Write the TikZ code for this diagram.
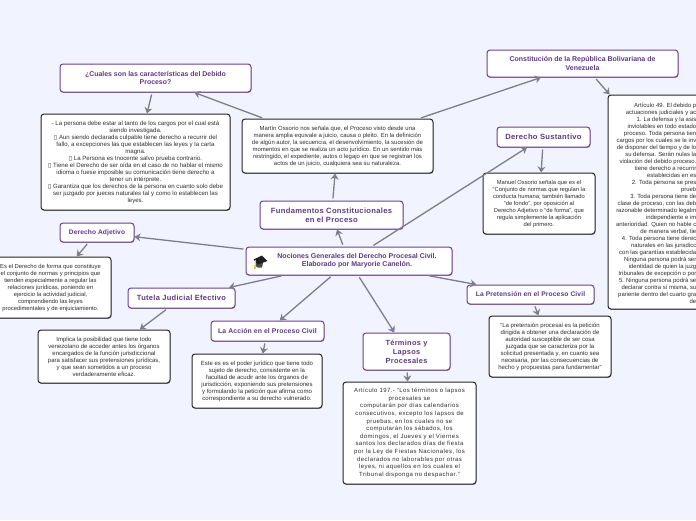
\documentclass[tikz,border=0pt]{standalone}
\usepackage{fontspec}
\setmainfont{Liberation Sans}
\newfontfamily\symfont{DejaVu Sans}
\usetikzlibrary{arrows.meta,shadows}
\definecolor{pagebg}{HTML}{F1F4FE}
\definecolor{headc}{HTML}{5E3A86}
\definecolor{headb}{HTML}{6C3F96}
\definecolor{bodyc}{HTML}{2E2E2E}
\definecolor{linkc}{HTML}{7E7E86}
\newcommand{\tofu}{{\symfont\char"25AF}}
\newcommand{\bodyfont}{\fontsize{5.95}{7}\selectfont}
\tikzset{
  softshadow/.style={drop shadow={shadow xshift=0.4pt,shadow yshift=-0.9pt,opacity=0.4,fill=black}},
  head/.style={draw=headb,line width=1pt,fill=white,rounded corners=3pt,softshadow,align=center,
    text=headc,font=\bfseries,inner sep=0pt,anchor=center},
  bodybox/.style={draw=black!85,line width=1pt,fill=white,rounded corners=3pt,softshadow,align=center,
    text=bodyc,font=\bodyfont,inner sep=0pt,anchor=center},
  conn/.style={draw=linkc,line width=1.3pt,shorten <=2pt,-{Stealth[length=6pt,width=8pt]}},
}
\begin{document}
\begin{tikzpicture}[x=1pt,y=-1pt]
\useasboundingbox (0,0) rectangle (696,520);
\fill[pagebg] (0,0) rectangle (696,520);
\clip (0,0) rectangle (696,520);

\node[head,minimum width=191pt,minimum height=28pt,font=\bfseries\fontsize{6.95}{8.2}\selectfont] (debido) at (155.5,78)
  {¿Cuales son las características del Debido\\Proceso?};
\node[bodybox,minimum width=189pt,minimum height=96pt,font=\fontsize{6.1}{7}\selectfont] (debidot) at (135.5,162)
  {- La persona debe estar al tanto de los cargos por el cual está\\
   siendo investigada.\\
   \tofu{} Aun siendo declarada culpable tiene derecho a recurrir del\\
   fallo, a excepciones las que establecen las leyes y la carta\\
   magna.\\
   \tofu{} La Persona es Inocente salvo prueba contrario.\\
   \tofu{} Tiene el Derecho de ser oída en el caso de no hablar el mismo\\
   idioma o fuese imposible su comunicación tiene derecho a\\
   tener un intérprete.\\
   \tofu{} Garantiza que los derechos de la persona en cuanto solo debe\\
   ser juzgado por jueces naturales tal y como lo establecen las\\
   leyes.};
\node[bodybox,minimum width=191pt,minimum height=54pt] (osorio) at (337.5,146)
  {Martín Ossorio nos señala que, el Proceso visto desde una\\
   manera amplia equivale a juicio, causa o pleito. En la definición\\
   de algún autor, la secuencia, el desenvolvimiento, la sucesión de\\
   momentos en que se realiza un acto jurídico. En un sentido más\\
   restringido, el expediente, autos o legajo en que se registran los\\
   actos de un juicio, cualquiera sea su naturaleza.};
\node[head,minimum width=143pt,minimum height=28pt,font=\bfseries\fontsize{7.6}{9}\selectfont\addfontfeatures{LetterSpace=4}] (fund) at (331.5,215)
  {Fundamentos Constitucionales\\en el Proceso};
\node[head,minimum width=206pt,minimum height=28pt] (root) at (349,261) {};
\node[text=headc,align=center,inner sep=0pt,font=\bfseries\fontsize{7}{8}\selectfont] (rootlabel) at (357,261)
  {Nociones Generales del Derecho Procesal Civil.\\Elaborado por Maryorie Canelón.};
% graduation cap icon
\fill[black!70] (255.5,262) -- (263,263) -- (262,267.5) .. controls (259,268.5) and (257,267.5) .. (255.5,266) -- cycle;
\fill[black!88] (253.5,259.5) -- (262,255.5) -- (267.5,261) -- (258,264.5) -- cycle;
\fill[orange!55!yellow!80!white] (255,260) rectangle (256,266);
\fill[orange!55!yellow!80!white] (254.4,265) rectangle (256.4,268.5);

\node[head,minimum width=191pt,minimum height=27pt,font=\bfseries\fontsize{7}{8.4}\selectfont] (const) at (582.5,63.5)
  {Constitución de la República Bolivariana de\\Venezuela};
\node[head,minimum width=93pt,minimum height=20pt,font=\bfseries\fontsize{7.6}{9}\selectfont\addfontfeatures{LetterSpace=4}] (sust) at (543.5,137)
  {Derecho Sustantivo};
\node[bodybox,minimum width=112pt,minimum height=61pt,font=\fontsize{5.8}{7}\selectfont] (manuel) at (539,203.5)
  {Manuel Ossorio señala que es el\\
   “Conjunto de normas que regulan la\\
   conducta humana; también llamado\\
   “de fondo”, por oposición al\\
   Derecho Adjetivo o “de forma”, que\\
   regula simplemente la aplicación\\
   del primero.};
\node[bodybox,minimum width=191pt,minimum height=214pt] (art) at (703.5,202) {};
\node[text=bodyc,align=right,inner sep=0pt,font=\bodyfont,anchor=north east] (arttext) at (696.5,102.5)
  {Artículo 49. El debido p\\
   actuaciones judiciales y ac\\
   1. La defensa y la asis\\
   inviolables en todo estado\\
   proceso. Toda persona tien\\
   cargos por los cuales se le inv\\
   de disponer del tiempo y de lo\\
   su defensa. Serán nulas la\\
   violación del debido proceso.\\
   tiene derecho a recurrir\\
   establecidas en es\\
   2. Toda persona se pres\\
   prueb\\
   3. Toda persona tiene de\\
   clase de proceso, con las deb\\
   razonable determinado legalm\\
   independiente e im\\
   anterioridad. Quien no hable c\\
   de manera verbal, tie\\
   4. Toda persona tiene derec\\
   naturales en las jurisdicc\\
   con las garantías establecida\\
   Ninguna persona podrá ser\\
   identidad de quien la juzg\\
   tribunales de excepción o por\\
   5. Ninguna persona podrá se\\
   declarar contra sí misma, su\\
   pariente dentro del cuarto gra\\
   de};

\node[head,minimum width=74pt,minimum height=19pt,font=\bfseries\fontsize{6.6}{8}\selectfont\addfontfeatures{LetterSpace=2}] (adj) at (97,232.5)
  {Derecho Adjetivo};
\node[bodybox,minimum width=121pt,minimum height=61pt,font=\fontsize{5.85}{7}\selectfont] (adjt) at (50.5,287.5)
  {Es el Derecho de forma que constituye\\
   el conjunto de normas y principios que\\
   tienden especialmente a regular las\\
   relaciones jurídicas, poniendo en\\
   ejercicio la actividad judicial,\\
   comprendiendo las leyes\\
   procedimentales y de enjuiciamiento.};
\node[head,minimum width=107pt,minimum height=20pt,font=\bfseries\fontsize{7.5}{9}\selectfont\addfontfeatures{LetterSpace=4}] (tutela) at (181.5,298)
  {Tutela Judicial Efectivo};
\node[bodybox,minimum width=132pt,minimum height=53pt,font=\fontsize{6}{7}\selectfont] (tutelat) at (104,356.5)
  {Implica la posibilidad que tiene todo\\
   venezolano de acceder antes los órganos\\
   encargados de la función jurisdiccional\\
   para satisfacer sus pretensiones jurídicas,\\
   y que sean sometidos a un proceso\\
   verdaderamente eficaz.};
\node[head,minimum width=113pt,minimum height=20pt,font=\bfseries\fontsize{6.85}{8}\selectfont\addfontfeatures{LetterSpace=2}] (accion) at (267.5,331)
  {La Acción en el Proceso Civil};
\node[bodybox,minimum width=130pt,minimum height=54pt,font=\fontsize{6}{7}\selectfont] (acciont) at (257,381)
  {Este es es el poder jurídico que tiene todo\\
   sujeto de derecho, consistente en la\\
   facultad de acudir ante los órganos de\\
   jurisdicción, exponiendo sus pretensiones\\
   y formulando la petición que afirma como\\
   correspondiente a su derecho vulnerado.};
\node[head,minimum width=87pt,minimum height=37pt,font=\bfseries\fontsize{7.4}{9}\selectfont\addfontfeatures{LetterSpace=4}] (term) at (406.5,351.5)
  {Términos y\\Lapsos\\Procesales};
\node[bodybox,minimum width=133pt,minimum height=102pt,font=\fontsize{6}{7.6}\selectfont\addfontfeatures{LetterSpace=7}] (termt) at (409.5,433)
  {Artículo 197.- “Los términos o lapsos\\
   procesales se\\
   computarán por días calendarios\\
   consecutivos, excepto los lapsos de\\
   pruebas, en los cuales no se\\
   computarán los sábados, los\\
   domingos, el Jueves y el Viernes\\
   santos los declarados días de fiesta\\
   por la Ley de Fiestas Nacionales, los\\
   declarados no laborables por otras\\
   leyes, ni aquellos en los cuales el\\
   Tribunal disponga no despachar.”};
\node[head,minimum width=127pt,minimum height=19pt,font=\bfseries\fontsize{6.7}{8}\selectfont\addfontfeatures{LetterSpace=2}] (pret) at (530.5,294.5)
  {La Pretensión en el Proceso Civil};
\node[bodybox,minimum width=122pt,minimum height=61pt,font=\fontsize{6}{7}\selectfont] (prett) at (550,346.5)
  {“La pretensión procesal es la petición\\
   dirigida a obtener una declaración de\\
   autoridad susceptible de ser cosa\\
   juzgada que se caracteriza por la\\
   solicitud presentada y, en cuanto sea\\
   necesaria, por las consecuencias de\\
   hecho y propuestas para fundamentar”};

\draw[conn] (root) -- (fund);
\draw[conn] (fund) -- (osorio);
\draw[conn] (osorio) -- (debido);
\draw[conn] (debido) -- (debidot);
\draw[conn] (osorio) -- (const);
\draw[conn] (const) -- (art);
\draw[conn] (root) -- (sust);
\draw[conn] (sust) -- (manuel);
\draw[conn] (root) -- (adj);
\draw[conn] (adj) -- (adjt);
\draw[conn] (root) -- (tutela);
\draw[conn] (tutela) -- (tutelat);
\draw[conn] (root) -- (accion);
\draw[conn] (accion) -- (acciont);
\draw[conn] (root) -- (term);
\draw[conn] (term) -- (termt);
\draw[conn] (root) -- (pret);
\draw[conn] (pret) -- (prett);
\end{tikzpicture}
\end{document}
